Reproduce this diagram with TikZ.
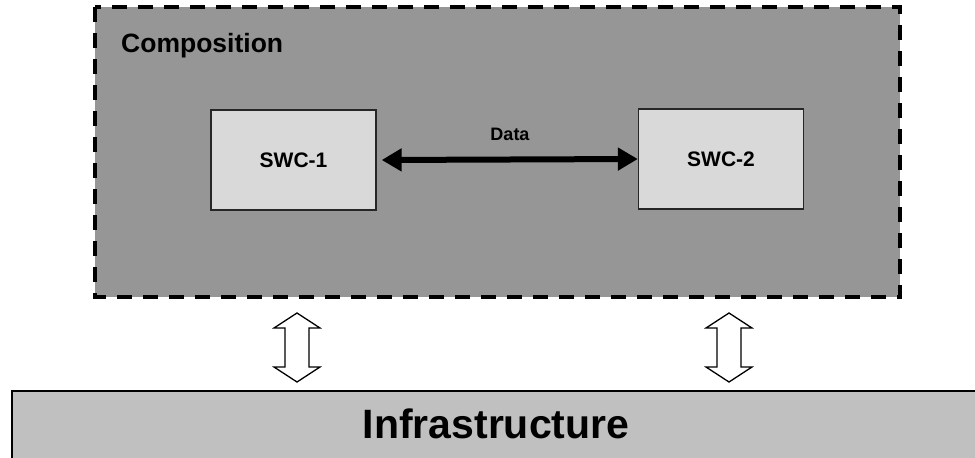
\documentclass[tikz,border=0pt]{standalone}
\usepackage{fontspec}
\setmainfont{Liberation Sans}
\usetikzlibrary{arrows.meta}
\definecolor{compgray}{RGB}{150,150,150}
\definecolor{swcgray}{RGB}{217,217,217}
\definecolor{infragray}{RGB}{192,192,192}
\tikzset{
  compbox/.style={draw=black, fill=compgray, line width=3.5pt,
    dash pattern=on 15pt off 11pt},
  swcbox/.style={draw=black!85, fill=swcgray, line width=1.4pt,
    minimum width=165pt, minimum height=100pt, inner sep=0pt,
    font=\bfseries\fontsize{21}{24}\selectfont},
  dataflow/.style={line width=6pt, {Triangle[length=20pt,width=22pt]}-{Triangle[length=20pt,width=22pt]}},
  hollowarrow/.style={draw=black, fill=white, line width=1.3pt, line join=miter},
}
\begin{document}
\begin{tikzpicture}[x=1pt,y=-1pt]
  \useasboundingbox (0,0) rectangle (975,458);
  % composition frame
  \path[compbox] (95,7) rectangle (900,297);
  \node[anchor=base west, inner sep=0pt, font=\bfseries\fontsize{26.5}{30}\selectfont] (comp) at (121,52) {Composition};
  % software components
  \node[swcbox] (swc1) at (293.5,160) {SWC-1};
  \node[swcbox] (swc2) at (721,159) {SWC-2};
  \draw[dataflow] ([xshift=5pt]swc1.east) -- (swc2.west);
  \node[font=\bfseries\fontsize{18}{21}\selectfont, inner sep=0pt] (data) at (510,134) {Data};
  % infrastructure layer
  \draw[line width=2pt, fill=infragray] (12,465) -- (12,391) -- (985,391) -- (985,465) -- cycle;
  \node[font=\bfseries\fontsize{41}{48}\selectfont, inner sep=0pt] (infra) at (496,424) {Infrastructure};
  % two-way interface arrows
  \foreach \cx/\nm in {297/la, 729/ra}{
    \coordinate (\nm) at (\cx,347.5);
    \draw[hollowarrow] (\cx,313)
      -- (\cx+23,328) -- (\cx+12,328) -- (\cx+12,367) -- (\cx+23,367)
      -- (\cx,382)
      -- (\cx-23,367) -- (\cx-12,367) -- (\cx-12,328) -- (\cx-23,328) -- cycle;
  }
\end{tikzpicture}
\end{document}
